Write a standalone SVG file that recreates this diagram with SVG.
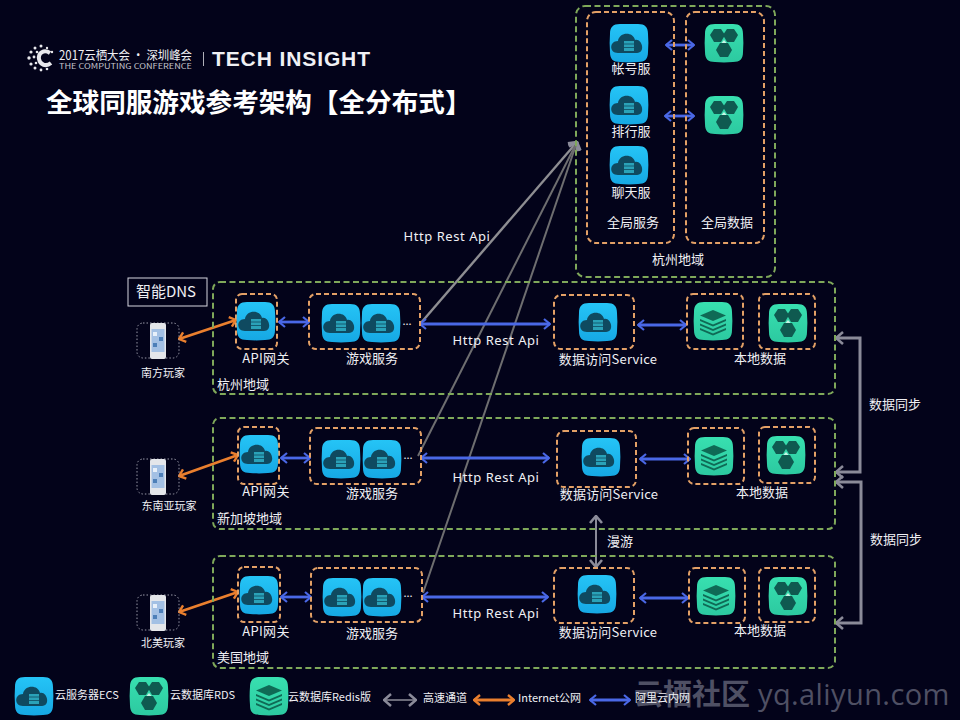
<svg xmlns="http://www.w3.org/2000/svg" width="960" height="720" viewBox="0 0 960 720">
<style>
text{font-family:"Noto Sans CJK SC","Liberation Sans",sans-serif;fill:#f0f0f4;font-size:13px}
.m{text-anchor:middle}
.s{font-size:11px}
.api{letter-spacing:.55px;font-family:"Noto Sans","Liberation Sans",sans-serif}
.zone{fill:none;stroke:#7fa85a;stroke-width:2;stroke-dasharray:6 3.5}
.group{fill:none;stroke:#e3a066;stroke-width:2;stroke-dasharray:5 3}
.blue,.orange,.gray,.dgray{fill:none}
.blue{stroke:#4a68e6;stroke-width:2.8;marker-start:url(#mb);marker-end:url(#mb)}
.orange{stroke:#ea7f2e;stroke-width:2.8;marker-start:url(#mo);marker-end:url(#mo)}
.gray{stroke:#8b8b99;stroke-width:3;marker-start:url(#mg);marker-end:url(#mg)}
.dgray{stroke:#6e6e70;stroke-width:2;marker-end:url(#mg)}
.dots{fill:none;stroke:#9a9aa8;stroke-width:1;stroke-dasharray:1.5 2}
</style>
<defs>
<marker id="mb" viewBox="0 0 12 12" refX="11" refY="6" markerWidth="12" markerHeight="12" markerUnits="userSpaceOnUse" orient="auto-start-reverse"><path d="M5 1L11 6L5 11" fill="none" stroke="#4a68e6" stroke-width="2.2"/></marker>
<marker id="mo" viewBox="0 0 12 12" refX="11" refY="6" markerWidth="12" markerHeight="12" markerUnits="userSpaceOnUse" orient="auto-start-reverse"><path d="M5 1L11 6L5 11" fill="none" stroke="#ea7f2e" stroke-width="2.4"/></marker>
<marker id="mg" viewBox="0 0 14 14" refX="13" refY="7" markerWidth="14" markerHeight="14" markerUnits="userSpaceOnUse" orient="auto-start-reverse"><path d="M6 1L13 7L6 13" fill="none" stroke="#8b8b99" stroke-width="2.6"/></marker>
<linearGradient id="gb" x1="0" y1="0" x2="0" y2="1"><stop offset="0" stop-color="#25c4f6"/><stop offset="1" stop-color="#16a8e4"/></linearGradient>
<linearGradient id="gg" x1="0" y1="0" x2="0" y2="1"><stop offset="0" stop-color="#38e0b0"/><stop offset="1" stop-color="#2cc9a0"/></linearGradient>
<path id="tile" d="M-9-19H9C16-19 19-16 19-9C19.500-3 19.500 3 19 9C19 16 16 19 9 19C3 19.500-3 19.500-9 19C-16 19-19 16-19 9C-19.500 3-19.500-3-19-9C-19-16-16-19-9-19Z"/>
<g id="ecs"><use href="#tile" fill="url(#gb)"/><path d="M-11 10C-20 10-20-2-11-2C-10-11 4-12 6-3C13-5 17 10 8 10Z" fill="#0f4a60"/><rect x="-5" y="-2" width="10" height="10" fill="#2aa2b8"/><path d="M-5 1H5M-5 4.500H5" stroke="#0f4a60" stroke-width="0.800"/></g>
<g id="rds"><use href="#tile" fill="url(#gg)"/><g fill="#0f5a50"><path d="M-14-8L-10-14H-3L1-8L-3-1H-10Z"/><path d="M-1-8L3-14H10L14-8L10-1H3Z"/><path d="M-8 7L-4 0H4L8 7L4 14H-4Z"/></g><path d="M0-3L2.500 0H-2.500Z" fill="#c8f5e6"/></g>
<g id="redis"><use href="#tile" fill="url(#gg)"/><g fill="#0f6a55"><path d="M0-11L13-5.500L0 0L-13-5.500Z"/><path d="M-13-2L0 3.500L13-2V0L0 5.500L-13 0Z"/><path d="M-13 2.500L0 8L13 2.500V4.500L0 10L-13 4.500Z"/><path d="M-13 7L0 12.500L13 7V9L0 14.500L-13 9Z"/></g></g>
<g id="phone"><rect x="-8" y="-18" width="16" height="36" rx="2" fill="#e4e6ea"/><rect x="-6.500" y="-12" width="13" height="23" fill="#a3c0e4"/><rect x="-5" y="-9" width="4" height="4" fill="#e8f0fa"/><rect x="1" y="-4" width="4" height="4" fill="#4d7fb8"/><rect x="-5" y="2" width="4" height="4" fill="#4d7fb8"/></g>
</defs>
<rect width="960" height="720" fill="#03031a"/>

<g id="header">
<g id="logo" fill="#e8e8ec">
<circle cx="41" cy="46" r="1.500"/><circle cx="35" cy="48" r="1.500"/><circle cx="47" cy="48" r="1.200"/><circle cx="31" cy="52" r="1.600"/><circle cx="37" cy="52" r="1.300"/><circle cx="29" cy="58" r="1.700"/><circle cx="34" cy="57" r="1.400"/><circle cx="31" cy="64" r="1.600"/><circle cx="36" cy="63" r="1.300"/><circle cx="35" cy="68" r="1.500"/><circle cx="41" cy="70" r="1.400"/><circle cx="47" cy="69" r="1.300"/><circle cx="52" cy="52" r="1.200"/>
<path d="M50 53C44 49 38 53 39 59C40 65 46 67 51 63" fill="none" stroke="#e8e8ec" stroke-width="4"/>
</g>
<text x="59" y="60" textLength="133" lengthAdjust="spacingAndGlyphs" style="font-size:12.500px">2017云栖大会 · 深圳峰会</text>
<text x="59" y="68.500" textLength="133" lengthAdjust="spacingAndGlyphs" style="font-size:7.500px;fill:#c4c4cc">THE COMPUTING CONFERENCE</text>
<rect x="203" y="52" width="1" height="14" fill="#b0b0b8"/>
<text x="212" y="66" textLength="158" lengthAdjust="spacing" style="font-family:'Liberation Sans',sans-serif;font-size:21px;font-weight:700">TECH INSIGHT</text>
<text x="46" y="112" style="font-size:26.600px;font-weight:700;fill:#fff">全球同服游戏参考架构【全分布式】</text>
</g>

<g id="connectors">
<path class="dgray" d="M420 324L577 142" style="stroke:#8e8e92;stroke-width:2.4"/>
<path class="dgray" d="M418 456L577 142"/>
<path class="dgray" d="M423 593L577 142"/>
<path class="blue" d="M666 45H694"/><path class="blue" d="M665 116H694"/>
<path class="orange" d="M179 339L236 320"/><path class="orange" d="M179 476L238 455"/><path class="orange" d="M179 612L238 592"/>
<path class="blue" d="M279 322H309"/><path class="blue" d="M420 324H550"/><path class="blue" d="M638 325H686"/>
<path class="blue" d="M281 458H310"/><path class="blue" d="M421 458H549"/><path class="blue" d="M640 459H690"/>
<path class="blue" d="M281 597H311"/><path class="blue" d="M422 597H548"/><path class="blue" d="M640 598H688"/>
<path class="gray" d="M836 338H860V472H836"/><path class="gray" d="M836 482H861V623H836"/>
<path class="gray" d="M596 516V567" style="stroke-width:2"/>
</g>

<g id="global-region">
<rect class="zone" x="576" y="6" width="199" height="271" rx="9"/>
<text class="m" x="678" y="264">杭州地域</text>
<g id="global-services">
<rect class="group" x="587" y="12" width="87" height="231" rx="9"/>
<use href="#ecs" x="629" y="43"/><text class="m" x="631" y="73">帐号服</text>
<use href="#ecs" x="629" y="105"/><text class="m" x="631" y="136">排行服</text>
<use href="#ecs" x="629" y="165"/><text class="m" x="631" y="197">聊天服</text>
<text class="m" x="633" y="227">全局服务</text>
</g>
<g id="global-data">
<rect class="group" x="686" y="12" width="78" height="231" rx="9"/>
<use href="#rds" x="724" y="43"/><use href="#rds" x="724" y="115"/>
<text class="m" x="727" y="227">全局数据</text>
</g>
</g>
<text class="m api" x="447" y="241">Http Rest Api</text>

<g id="dns"><rect x="128" y="278" width="79" height="28" fill="none" stroke="#d8d8e0" stroke-width="1"/><text class="m" x="166" y="297" style="font-size:15px">智能DNS</text></g>

<g id="region-hangzhou">
<rect class="zone" x="213" y="282" width="622" height="112" rx="7"/>
<text x="217" y="389">杭州地域</text>
<g id="hz-player"><rect class="dots" x="137" y="323" width="42" height="35" rx="6"/><use href="#phone" x="158" y="341"/><text class="m s" x="163" y="377">南方玩家</text></g>
<g id="hz-api"><rect class="group" x="236" y="294" width="41" height="55" rx="6"/><use href="#ecs" x="256" y="321"/><text class="m" x="266" y="363" style="letter-spacing:.3px">API网关</text></g>
<g id="hz-game"><rect class="group" x="309" y="294" width="111" height="55" rx="7"/><use href="#ecs" x="341" y="323"/><use href="#ecs" x="381" y="323"/><text class="m s" x="407" y="325">...</text><text class="m" x="372" y="363">游戏服务</text></g>
<text class="m api" x="496" y="345">Http Rest Api</text>
<g id="hz-access"><rect class="group" x="554" y="295" width="80" height="54" rx="7"/><use href="#ecs" x="598" y="322"/><text class="m" x="608" y="364" style="letter-spacing:.2px">数据访问Service</text></g>
<g id="hz-redis"><rect class="group" x="687" y="294" width="56" height="55" rx="6"/><use href="#redis" x="713" y="321"/></g>
<g id="hz-rds"><rect class="group" x="759" y="294" width="56" height="55" rx="6"/><use href="#rds" x="788" y="323"/></g>
<text class="m" x="760" y="363">本地数据</text>
</g>

<g id="region-singapore">
<rect class="zone" x="213" y="418" width="622" height="111" rx="7"/>
<text x="217" y="523">新加坡地域</text>
<g id="sg-player"><rect class="dots" x="137" y="459" width="42" height="35" rx="6"/><use href="#phone" x="158" y="477"/><text class="m s" x="169" y="510">东南亚玩家</text></g>
<g id="sg-api"><rect class="group" x="238" y="427" width="41" height="57" rx="6"/><use href="#ecs" x="259" y="454"/><text class="m" x="266" y="496" style="letter-spacing:.3px">API网关</text></g>
<g id="sg-game"><rect class="group" x="310" y="428" width="111" height="56" rx="7"/><use href="#ecs" x="341" y="459"/><use href="#ecs" x="382" y="459"/><text class="m s" x="408" y="459">...</text><text class="m" x="372" y="498">游戏服务</text></g>
<text class="m api" x="496" y="482">Http Rest Api</text>
<g id="sg-access"><rect class="group" x="557" y="431" width="79" height="56" rx="7"/><use href="#ecs" x="601" y="457"/><text class="m" x="609" y="499" style="letter-spacing:.2px">数据访问Service</text></g>
<g id="sg-redis"><rect class="group" x="688" y="428" width="56" height="56" rx="6"/><use href="#redis" x="714" y="456"/></g>
<g id="sg-rds"><rect class="group" x="759" y="427" width="56" height="56" rx="6"/><use href="#rds" x="786" y="455"/></g>
<text class="m" x="762" y="497">本地数据</text>
</g>

<g id="region-us">
<rect class="zone" x="213" y="556" width="622" height="112" rx="7"/>
<text x="217" y="662">美国地域</text>
<g id="us-player"><rect class="dots" x="137" y="595" width="42" height="35" rx="6"/><use href="#phone" x="158" y="613"/><text class="m s" x="163" y="647">北美玩家</text></g>
<g id="us-api"><rect class="group" x="238" y="567" width="42" height="55" rx="6"/><use href="#ecs" x="259" y="595"/><text class="m" x="266" y="636" style="letter-spacing:.3px">API网关</text></g>
<g id="us-game"><rect class="group" x="311" y="568" width="111" height="54" rx="7"/><use href="#ecs" x="342" y="597"/><use href="#ecs" x="382" y="597"/><text class="m s" x="408" y="597">...</text><text class="m" x="372" y="638">游戏服务</text></g>
<text class="m api" x="496" y="618">Http Rest Api</text>
<g id="us-access"><rect class="group" x="554" y="568" width="80" height="55" rx="7"/><use href="#ecs" x="597" y="594"/><text class="m" x="608" y="637" style="letter-spacing:.2px">数据访问Service</text></g>
<g id="us-redis"><rect class="group" x="689" y="568" width="56" height="55" rx="6"/><use href="#redis" x="716" y="596"/></g>
<g id="us-rds"><rect class="group" x="759" y="568" width="56" height="54" rx="6"/><use href="#rds" x="788" y="596"/></g>
<text class="m" x="760" y="635">本地数据</text>
</g>

<text class="m" x="895" y="409">数据同步</text>
<text class="m" x="896" y="544">数据同步</text>
<text class="m" x="620" y="546">漫游</text>

<text id="watermark" y="705" x="634" style="font-size:29px;font-weight:700;fill:#4f5064">云栖社区<tspan dx="8" style="font-family:'Open Sans',sans-serif;font-weight:400;font-size:29px;letter-spacing:.4px">yq.aliyun.com</tspan></text>

<g id="legend">
<use href="#ecs" x="34" y="696"/><text class="s" x="55" y="699">云服务器ECS</text>
<use href="#rds" x="149" y="696"/><text class="s" x="170" y="699">云数据库RDS</text>
<use href="#redis" x="269" y="696"/><text class="s" x="288" y="701">云数据库Redis版</text>
<path class="gray" d="M384 700H416" style="stroke:#6a6a78;stroke-width:2"/><text class="s" x="423" y="702">高速通道</text>
<path class="orange" d="M474 700H514"/><text class="s" x="518" y="702">Internet公网</text>
<path class="blue" d="M590 700H630"/><text class="s" x="635" y="702">阿里云内网</text>
</g>
</svg>
